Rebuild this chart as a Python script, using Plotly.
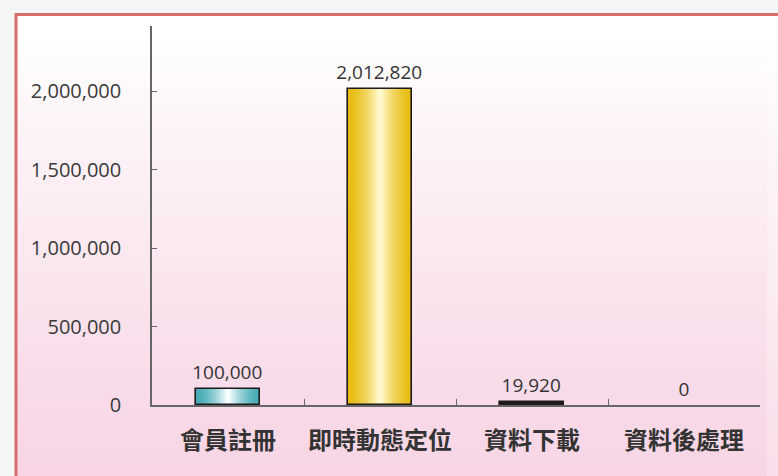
import plotly.graph_objects as go

# ---- data ----
categories = ["會員註冊", "即時動態定位", "資料下載", "資料後處理"]
values = [100000, 2012820, 19920, 0]
y_ticks = [0, 500000, 1000000, 1500000, 2000000]

# edge / centre colours of the cylinder-style bars
edge_colors = [(72, 172, 182), (232, 188, 20), (40, 24, 26), (40, 24, 26)]
center_colors = [(246, 255, 255), (255, 249, 205), (40, 24, 26), (40, 24, 26)]

W, H = 778, 476
ML, MR, MT, MB = 152, 18, 26, 71
PW, PH = W - ML - MR, H - MT - MB


def xp(px):
    return (px - ML) / PW


def yp(py):
    return (H - MB - py) / PH


def mix(a, b, t):
    return "rgb(%d,%d,%d)" % tuple(round(a[i] + (b[i] - a[i]) * t) for i in range(3))


fig = go.Figure()

# horizontal shading: stacked, narrowing bars from edge colour to centre colour
BAR_W = 0.415
N = 16
for i in range(N):
    t = (i / (N - 1)) ** 1.6
    fig.add_trace(go.Bar(
        x=categories, y=values, width=BAR_W * (1 - i / N),
        marker=dict(color=[mix(e, c, t) for e, c in zip(edge_colors, center_colors)],
                    line=dict(width=0)),
        hoverinfo="skip", showlegend=False,
    ))

# outline + value labels
fig.add_trace(go.Bar(
    x=categories, y=values, width=BAR_W,
    marker=dict(color="rgba(0,0,0,0)",
                line=dict(color="#1e1a1a", width=[1.6 if v > 0 else 0 for v in values])),
    text=[f"{v:,}" for v in values], textposition="outside", constraintext="none",
    textfont=dict(family="Open Sans", size=19, color="#333333"),
    cliponaxis=False, showlegend=False,
))

# background: white to pink vertical gradient inside a red frame
shapes = []
top, bottom = 14, H + 4
n_strips = 70
for k in range(n_strips):
    y0 = top + (bottom - top) * k / n_strips
    y1 = top + (bottom - top) * (k + 1) / n_strips
    t = min(max(((y0 + y1) / 2 - 40) / (H - 40), 0), 1) ** 0.85
    shapes.append(dict(type="rect", xref="paper", yref="paper", layer="below",
                       x0=xp(15), x1=xp(W + 5), y0=yp(y1 + 0.5), y1=yp(y0),
                       fillcolor=mix((255, 255, 255), (247, 212, 228), t),
                       line=dict(width=0)))
shapes.append(dict(type="rect", xref="paper", yref="paper", layer="below",
                   x0=xp(767), x1=xp(W + 5), y0=yp(H + 5), y1=yp(16),
                   fillcolor="rgba(255,255,255,0.25)", line=dict(width=0)))
shapes.append(dict(type="rect", xref="paper", yref="paper", layer="below",
                   x0=xp(16), x1=xp(W + 20), y0=yp(H + 20), y1=yp(14.5),
                   fillcolor="rgba(0,0,0,0)", line=dict(color="#d86e6c", width=3)))

fig.update_layout(
    width=W, height=H,
    margin=dict(l=ML, r=MR, t=MT, b=MB, autoexpand=False),
    paper_bgcolor="#f3f6f4", plot_bgcolor="rgba(0,0,0,0)",
    barmode="overlay", bargap=0,
    shapes=shapes,
    xaxis=dict(
        type="category", range=[-0.5, 3.5], automargin=False, tickangle=0,
        showline=True, linecolor="#666666", linewidth=1.5,
        ticks="inside", tickson="boundaries", ticklen=6, tickcolor="#666666",
        showgrid=False, zeroline=False, ticklabelstandoff=13,
        tickfont=dict(family="Noto Sans CJK TC", size=24, color="#333333", weight="bold"),
    ),
    yaxis=dict(
        range=[0, 2414000], tickvals=y_ticks, tickformat=",", automargin=False,
        showline=True, linecolor="#666666", linewidth=1.5,
        ticks="inside", ticklen=5, tickcolor="#666666",
        showgrid=False, zeroline=False, ticklabelstandoff=25,
        tickfont=dict(family="Open Sans", size=20, color="#3a3a3a"),
    ),
)

fig.write_html("out.html")
